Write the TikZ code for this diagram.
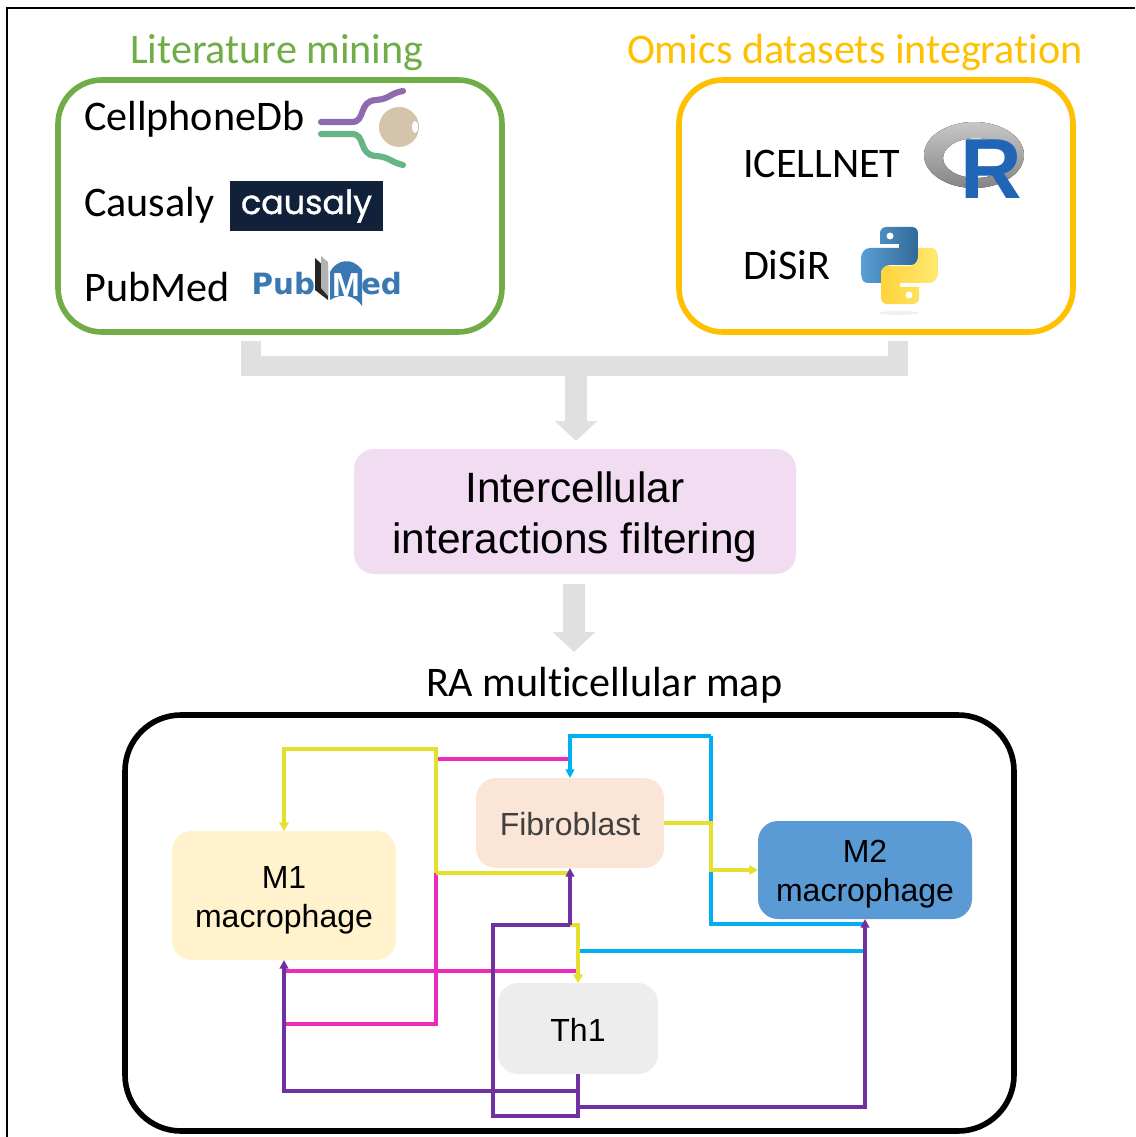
\documentclass[tikz,border=0pt]{standalone}
\usepackage{fontspec}
\usetikzlibrary{arrows.meta}
\setmainfont[Ligatures=NoCommon]{Carlito}
\newfontfamily\arialf{Liberation Sans}
\newfontfamily\popf[FakeBold=1.2]{Poppins}
\newfontfamily\dejaf{DejaVu Sans}
\newcommand{\toplift}[1]{\rule{0pt}{#1}}
\definecolor{litgreen}{HTML}{70AD47}
\definecolor{omicsorange}{HTML}{FFC000}
\definecolor{bargray}{HTML}{E0E0E0}
\definecolor{filterpink}{HTML}{F1DCF2}
\definecolor{mapyellow}{HTML}{E6DF2E}
\definecolor{mappink}{HTML}{EC2BBE}
\definecolor{mapcyan}{HTML}{00B0F0}
\definecolor{mappurple}{HTML}{7030A0}
\definecolor{pubblue}{HTML}{3A78B2}
\definecolor{cellm1}{HTML}{FFF2CC}
\definecolor{cellfib}{HTML}{FBE5D6}
\definecolor{cellm2}{HTML}{5B9BD5}
\definecolor{cellth}{HTML}{EDEDED}
\definecolor{causnavy}{HTML}{12213A}
\definecolor{cpurple}{HTML}{8E6BAE}
\definecolor{cgreen}{HTML}{67B587}
\definecolor{ctan}{HTML}{D5C4AC}
\definecolor{rblue}{HTML}{2165B6}
\definecolor{pyblueA}{HTML}{5A9FD4}
\definecolor{pyblueB}{HTML}{306998}
\definecolor{pyyelA}{HTML}{FFD43B}
\definecolor{pyyelB}{HTML}{FFE873}
\tikzset{
  label14/.style={inner sep=0pt,outer sep=0pt,anchor=base west,font=\fontsize{31.6}{38}\selectfont},
  srcbox/.style={draw,line width=4.2pt,rounded corners=33pt,fill=white,inner sep=0pt,outer sep=0pt},
  cellbox/.style={rounded corners=15pt,inner sep=0pt,outer sep=0pt,align=center,
     font=\arialf\fontsize{24}{29.25}\selectfont},
  wire/.style={line width=2.4pt,-{Triangle[length=6.5pt,width=6.5pt]}},
  plainwire/.style={line width=2.4pt},
  ywire/.style={line width=2.5pt,-{Triangle[length=6.5pt,width=7pt]}},
  yplain/.style={line width=2.5pt},
  barline/.style={line width=14.5pt,draw=bargray},
  bararrow/.style={line width=17pt,draw=bargray,-{Triangle[length=15pt,width=31pt]}},
  logotext/.style={inner sep=0pt,outer sep=0pt,text=pubblue,font=\dejaf\bfseries\fontsize{22}{26}\selectfont},
}
\begin{document}
\begin{tikzpicture}[x=0.75pt,y=-0.75pt]
\useasboundingbox (0,0) rectangle (1135,1137);
\fill[white] (0,0) rectangle (1135,1137);
\draw[line width=1.3pt] (7,1137) -- (7,8) -- (1135,8);

% source boxes
\node[srcbox,draw=litgreen,minimum width=333pt,minimum height=189pt] (lit) at (280,206) {};
\node[srcbox,draw=omicsorange,minimum width=295.5pt,minimum height=189pt] (omics) at (876,206) {};
\node[label14,text=litgreen] (littitle) at (130,64) {Literature mining};
\node[label14,text=omicsorange] (omicstitle) at (627,64) {Omics datasets integration};

\node[label14] (cpdb) at (84,131) {CellphoneDb};
\node[label14] (caus) at (84,217) {Causaly};
\node[label14] (pubm) at (84.5,301) {PubMed};
\node[label14] (icell) at (743,178) {ICELLNET};
\node[label14] (disir) at (743,280) {DiSiR};

% CellphoneDB logo
\draw[line width=4.6pt,line cap=round,draw=cpurple] (321,122) -- (352,122) .. controls (366,122) and (358,101) .. (376,100) .. controls (390,99) and (390,93) .. (403,91);
\draw[line width=4.6pt,line cap=round,draw=cgreen] (321,134) -- (352,134) .. controls (366,134) and (358,155) .. (376,156) .. controls (390,157) and (390,162) .. (403,165);
\fill[ctan] (399,127) circle[radius=20];
\fill[white] (415,127) ellipse[x radius=3,y radius=6];

% causaly logo
\node[fill=causnavy,minimum width=114.75pt,minimum height=37.5pt,inner sep=0pt,outer sep=0pt,text=white,font=\popf\fontsize{25}{30}\selectfont] (causlogo) at (306.5,206) {causaly};

% PubMed logo
\node[logotext,anchor=base east] (publogo) at (315,295) {Pub};
\node[logotext,anchor=base west] (edlogo) at (361,295) {ed};
\fill[black!85] (315,258) -- (315,290) -- (328,300) -- (328,270) -- cycle;
\fill[black!30] (321,256) -- (328,262) -- (328,296) -- (321,288) -- cycle;
\fill[pubblue] (330,300) -- (330,272) .. controls (336,260) and (352,256) .. (362,270) -- (362,306) .. controls (356,296) and (342,292) .. (330,300) -- cycle;
\node[inner sep=0pt,outer sep=0pt,text=white,font=\arialf\bfseries\fontsize{25}{28}\selectfont] (mlogo) at (346,285) {M};

% R logo
\fill[even odd rule,top color=black!22,bottom color=black!48]
  (974,155) ellipse[x radius=50,y radius=33]
  (976,158) ellipse[x radius=33,y radius=20];
\node[inner sep=0pt,outer sep=0pt,anchor=base west,text=rblue,font=\arialf\bfseries\fontsize{64}{66}\selectfont] (rlogo) at (960,199) {R};

% Python logo
\fill[black!6] (899,313) ellipse[x radius=20,y radius=2];
\def\snake{(886,227) -- (912,227) to[out=0,in=90] (918,233) -- (918,258) to[out=-90,in=0] (911,265) -- (890,265) to[out=180,in=90] (881,274) -- (881,283) -- (867,283) to[out=180,in=-90] (861,270) -- (861,258) to[out=90,in=180] (870,248) -- (899,248) -- (899,244) -- (880,244) -- (880,233) to[out=90,in=180] cycle}
\shade[left color=pyblueA,right color=pyblueB] \snake;
\fill[white] (890,236) circle[radius=3.5];
\begin{scope}[rotate around={180:(899.5,265.5)}]
\shade[left color=pyyelA,right color=pyyelB] \snake;
\fill[white] (890,236) circle[radius=3.5];
\end{scope}

% filter
\node[fill=filterpink,rounded corners=15pt,minimum width=331.5pt,minimum height=93.75pt,inner sep=0pt,outer sep=0pt,align=center,font=\arialf\fontsize{31.8}{38.25}\selectfont] (filter) at (575,511.5) {\toplift{32pt}Intercellular\\interactions filtering};

% grey connectors
\coordinate (brl) at (251,341);
\coordinate (brlj) at (251,366);
\coordinate (brr) at (898,341);
\coordinate (brrj) at (898,366);
\coordinate (brm) at (576,366);
\coordinate (tip1) at (576,441);
\coordinate (st2) at (574,584);
\coordinate (tip2) at (574,652);
\draw[barline,line cap=butt] (brl) -- (brlj) -- (brrj) -- (brr);
\draw[bararrow] (brm) -- (tip1);
\draw[bararrow] (st2) -- (tip2);

% map
\node[label14] (maptitle) at (426,696) {RA multicellular map};
\node[draw=black,line width=4.2pt,rounded corners=42pt,minimum width=666.75pt,minimum height=312pt,inner sep=0pt,outer sep=0pt] (mapbox) at (569.5,923) {};

\node[cellbox,fill=cellm1,minimum width=168pt,minimum height=96.75pt] (m1) at (284,895.5) {\toplift{23.2pt}M1\\macrophage};
\node[cellbox,fill=cellfib,minimum width=141pt,minimum height=67.5pt,text=black!75] (fib) at (570,823) {\toplift{19pt}Fibroblast};
\node[cellbox,fill=cellm2,minimum width=160.5pt,minimum height=73.5pt] (m2) at (865,870) {\toplift{23.2pt}M2\\macrophage};
\node[cellbox,fill=cellth,minimum width=120pt,minimum height=68.25pt] (th1) at (578,1028.5) {\toplift{19pt}Th1};

% wire junctions
\coordinate (a1) at (436,749);
\coordinate (a2) at (436,873);
\coordinate (a3) at (284,749);
\coordinate (b1) at (436,759);
\coordinate (b2) at (436,1024);
\coordinate (b3) at (284,1024);
\coordinate (b4) at (570,759);
\coordinate (c1) at (570,736);
\coordinate (c2) at (711,736);
\coordinate (c3) at (711,924);
\coordinate (c4) at (865,924);
\coordinate (d1) at (578,951);
\coordinate (d2) at (865,951);
\coordinate (e1) at (578,971);
\coordinate (e2) at (284,971);
\coordinate (f1) at (711,823);
\coordinate (f2) at (711,870);
\coordinate (g1) at (578,925);
\coordinate (g2) at (570,925);
\coordinate (g3) at (493,925);
\coordinate (g4) at (493,1116);
\coordinate (g5) at (578,1116);
\coordinate (h1) at (578,1091);
\coordinate (h2) at (284,1091);
\coordinate (i1) at (578,1107);
\coordinate (i2) at (865,1107);

\draw[plainwire,draw=mappink] (b4) -- (b1) -- (b2) -- (b3);
\draw[plainwire,draw=mappink] (e1) -- (e2);
\draw[wire,draw=mapcyan] (c2) -- (c1) -- (fib.north);
\draw[plainwire,draw=mapcyan] (c2) -- (c3) -- (c4);
\draw[plainwire,draw=mapcyan] (d1) -- (d2);
\draw[ywire,draw=mapyellow] (a2) -- (a1) -- (a3) -- (m1.north);
\draw[yplain,draw=mapyellow] (a2) -- (fib.south |- a2);
\draw[ywire,draw=mapyellow] (fib.east) -- (f1) -- (f2) -- (m2.west);
\draw[ywire,draw=mapyellow] (g2) -- (g1) -- (th1.north);
\draw[wire,draw=mappurple] (th1.south) -- (h1) -- (h2) -- (m1.south);
\draw[plainwire,draw=mappurple] (th1.south) -- (g5) -- (g4) -- (g3) -- (g2);
\draw[wire,draw=mappurple] (g2) -- (fib.south);
\draw[wire,draw=mappurple] (i1) -- (i2) -- (m2.south);
\end{tikzpicture}
\end{document}
